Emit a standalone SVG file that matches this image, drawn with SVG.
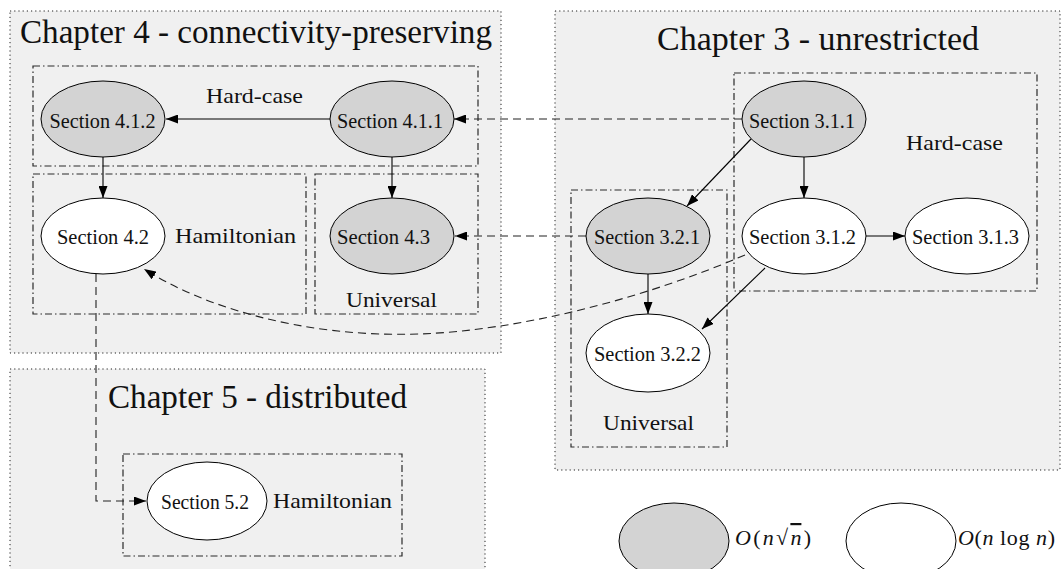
<svg xmlns="http://www.w3.org/2000/svg" width="1064" height="569" viewBox="0 0 1064 569">
<style>
  text { font-family: "Liberation Serif", "DejaVu Serif", serif; fill: #111; }
  .chapter { fill: #f0f0f0; stroke: #222; stroke-width: 1; stroke-dasharray: 1.2,3; }
  .cluster { fill: none; stroke: #2a2a2a; stroke-width: 1.2; stroke-dasharray: 7,3,1.5,3; }
  .title { font-size: 33px; }
  .clabel { font-size: 22px; }
  .slabel { font-size: 20px; text-anchor: middle; }
  .hard { fill: #d3d3d3; stroke: #000; stroke-width: 1; }
  .easy { fill: #ffffff; stroke: #000; stroke-width: 1; }
  .edge { fill: none; stroke: #000; stroke-width: 1.1; marker-end: url(#arrow); }
  .dash { stroke-dasharray: 8,5; stroke: #222; }
  .it { font-style: italic; }
</style>
<defs>
  <marker id="arrow" markerUnits="userSpaceOnUse" markerWidth="12" markerHeight="9" refX="12" refY="4.5" orient="auto">
    <path d="M0,0 L12,4.5 L0,9 z" fill="#000"/>
  </marker>
</defs>

<!-- chapters -->
<g id="chapter4">
  <rect class="chapter" x="10" y="11" width="491" height="342"/>
  <text class="title" x="20" y="43" textLength="472" lengthAdjust="spacingAndGlyphs">Chapter 4 - connectivity-preserving</text>
</g>
<g id="chapter3">
  <rect class="chapter" x="555" y="11" width="505" height="459"/>
  <text class="title" x="657" y="50" textLength="322" lengthAdjust="spacingAndGlyphs">Chapter 3 - unrestricted</text>
</g>
<g id="chapter5">
  <rect class="chapter" x="10" y="369" width="475" height="220"/>
  <text class="title" x="108" y="408" textLength="299" lengthAdjust="spacingAndGlyphs">Chapter 5 - distributed</text>
</g>

<!-- clusters -->
<g id="ch4-hardcase">
  <rect class="cluster" x="33" y="66" width="445" height="100"/>
  <text class="clabel" x="206" y="103" textLength="97" lengthAdjust="spacingAndGlyphs">Hard-case</text>
</g>
<g id="ch4-hamiltonian">
  <rect class="cluster" x="33" y="174" width="273" height="140"/>
  <text class="clabel" x="175" y="243" textLength="121" lengthAdjust="spacingAndGlyphs">Hamiltonian</text>
</g>
<g id="ch4-universal">
  <rect class="cluster" x="315" y="174" width="163" height="140"/>
  <text class="clabel" x="346" y="307" textLength="91" lengthAdjust="spacingAndGlyphs">Universal</text>
</g>
<g id="ch3-hardcase">
  <rect class="cluster" x="734" y="73" width="303" height="218"/>
  <text class="clabel" x="906" y="150" textLength="97" lengthAdjust="spacingAndGlyphs">Hard-case</text>
</g>
<g id="ch3-universal">
  <rect class="cluster" x="571" y="190" width="156" height="257"/>
  <text class="clabel" x="603" y="430" textLength="91" lengthAdjust="spacingAndGlyphs">Universal</text>
</g>
<g id="ch5-hamiltonian">
  <rect class="cluster" x="123" y="454" width="279" height="102"/>
  <text class="clabel" x="273" y="508" textLength="119" lengthAdjust="spacingAndGlyphs">Hamiltonian</text>
</g>

<!-- connectors -->
<g id="connectors">
  <path class="edge" d="M330,119 L166,119"/>
  <path class="edge" d="M103,157 L103,198"/>
  <path class="edge" d="M392,157 L392,198"/>
  <path class="edge dash" d="M742,119 L454,119"/>
  <path class="edge dash" d="M586,236 L455,236"/>
  <path class="edge dash" d="M745,255 C640,300 520,330 420,334 C300,338 200,305 144,269"/>
  <path class="edge dash" d="M96,274 L96,501 L146,501"/>
  <path class="edge" d="M804,157 L804,198"/>
  <path class="edge" d="M751,139 L687,206"/>
  <path class="edge" d="M866,236 L905,236"/>
  <path class="edge" d="M648,274 L648,314"/>
  <path class="edge" d="M765,268 L702,329"/>
</g>

<!-- nodes -->
<g id="s412">
  <ellipse class="hard" cx="103" cy="119" rx="62" ry="38"/>
  <text class="slabel" x="102.5" y="127.5" textLength="106" lengthAdjust="spacingAndGlyphs">Section 4.1.2</text>
</g>
<g id="s411">
  <ellipse class="hard" cx="392" cy="119" rx="62" ry="38"/>
  <text class="slabel" x="390" y="127.5" textLength="106" lengthAdjust="spacingAndGlyphs">Section 4.1.1</text>
</g>
<g id="s42">
  <ellipse class="easy" cx="103" cy="236" rx="62" ry="38"/>
  <text class="slabel" x="103" y="244" textLength="92" lengthAdjust="spacingAndGlyphs">Section 4.2</text>
</g>
<g id="s43">
  <ellipse class="hard" cx="392" cy="236" rx="62" ry="38"/>
  <text class="slabel" x="383.5" y="244" textLength="93" lengthAdjust="spacingAndGlyphs">Section 4.3</text>
</g>
<g id="s311">
  <ellipse class="hard" cx="804" cy="119" rx="62" ry="38"/>
  <text class="slabel" x="802" y="127.5" textLength="106" lengthAdjust="spacingAndGlyphs">Section 3.1.1</text>
</g>
<g id="s312">
  <ellipse class="easy" cx="804" cy="236" rx="62" ry="38"/>
  <text class="slabel" x="802.5" y="244" textLength="107" lengthAdjust="spacingAndGlyphs">Section 3.1.2</text>
</g>
<g id="s313">
  <ellipse class="easy" cx="967" cy="236" rx="62" ry="38"/>
  <text class="slabel" x="965.5" y="244" textLength="107" lengthAdjust="spacingAndGlyphs">Section 3.1.3</text>
</g>
<g id="s321">
  <ellipse class="hard" cx="648" cy="236" rx="62" ry="38"/>
  <text class="slabel" x="647" y="244" textLength="106" lengthAdjust="spacingAndGlyphs">Section 3.2.1</text>
</g>
<g id="s322">
  <ellipse class="easy" cx="648" cy="353" rx="62" ry="39"/>
  <text class="slabel" x="647.5" y="361" textLength="107" lengthAdjust="spacingAndGlyphs">Section 3.2.2</text>
</g>
<g id="s52">
  <ellipse class="easy" cx="207" cy="501" rx="60" ry="39"/>
  <text class="slabel" x="205" y="509" textLength="88" lengthAdjust="spacingAndGlyphs">Section 5.2</text>
</g>

<!-- legend -->
<g id="legend-hard">
  <ellipse class="hard" cx="674" cy="541" rx="55" ry="38"/>
  <text class="clabel" x="735" y="545" textLength="76" lengthAdjust="spacing"><tspan class="it">O</tspan>(<tspan class="it">n</tspan>√<tspan class="it" text-decoration="overline">n</tspan>)</text>
</g>
<g id="legend-easy">
  <ellipse class="easy" cx="901" cy="541" rx="55" ry="38"/>
  <text class="clabel" x="958" y="545" textLength="97" lengthAdjust="spacing"><tspan class="it">O</tspan>(<tspan class="it">n</tspan> log <tspan class="it">n</tspan>)</text>
</g>
</svg>
